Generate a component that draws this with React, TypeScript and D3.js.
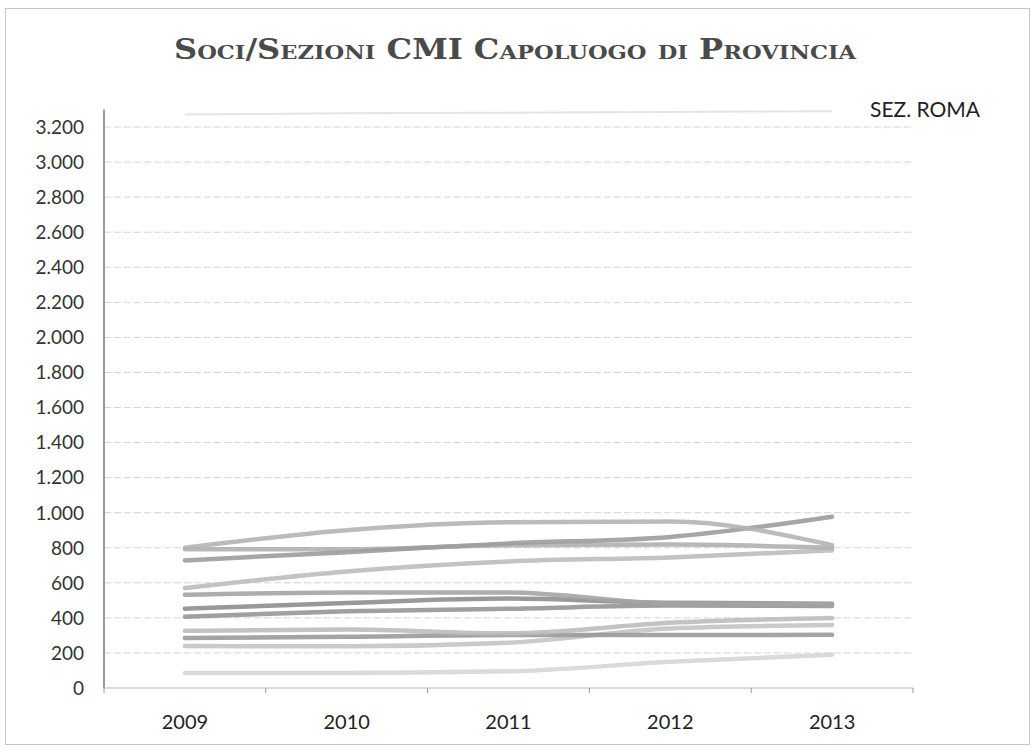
import * as d3 from "d3";

// values
const years = ["2009", "2010", "2011", "2012", "2013"];
const yTicks = [0, 200, 400, 600, 800, 1000, 1200, 1400, 1600, 1800, 2000, 2200, 2400, 2600, 2800, 3000, 3200];

const sez1 = [800, 900, 945, 950, 815];
const sez2 = [728, 775, 825, 862, 977];
const sez3 = [792, 792, 815, 818, 800];
const sez4 = [570, 665, 722, 745, 785];
const sez5 = [532, 545, 545, 482, 476];
const sez6 = [452, 485, 510, 486, 481];
const sez7 = [407, 438, 452, 470, 468];
const sez8 = [326, 334, 312, 372, 400];
const sez9 = [285, 292, 302, 302, 304];
const sez10 = [240, 238, 258, 340, 359];
const sez11 = [85, 86, 95, 150, 190];
const roma = [3272, 3278, 3282, 3286, 3290];

const series = [
  { name: "s11", values: sez11, color: "#d6d6d6" },
  { name: "s10", values: sez10, color: "#c4c4c4" },
  { name: "s9", values: sez9, color: "#9a9a9a" },
  { name: "s8", values: sez8, color: "#bdbdbd" },
  { name: "s7", values: sez7, color: "#969696" },
  { name: "s6", values: sez6, color: "#8e8e8e" },
  { name: "s5", values: sez5, color: "#a4a4a4" },
  { name: "s4", values: sez4, color: "#bcbcbc" },
  { name: "s3", values: sez3, color: "#b0b0b0" },
  { name: "s2", values: sez2, color: "#9c9c9c" },
  { name: "s1", values: sez1, color: "#b4b4b4" },
];

const it = d3.formatLocale({ decimal: ",", thousands: ".", grouping: [3], currency: ["€", ""] });
const fmt = it.format(",");

export default function App() {
  const W = 1033, H = 754;
  const left = 104, right = 913, bottom = 688;

  const x = d3.scaleBand().domain(years).range([left, right]);
  const y = d3.scaleLinear().domain([0, 3300]).range([bottom, 109.5]);
  const cx = (yr: string) => x(yr)! + x.bandwidth() / 2;

  const line = d3.line<number>()
    .x((_, i) => cx(years[i]))
    .y(d => y(d))
    .curve(d3.curveMonotoneX);

  const boundaries = years.map(yr => x(yr)!).concat([right]);
  const font = "Lato, 'Open Sans', sans-serif";

  return (
    <div style={{ position: "absolute", left: 0, top: 0 }}>
      <svg width={W} height={H} style={{ display: "block", background: "#fff" }}>
        <rect x={5.5} y={8.5} width={1024} height={736} fill="none" stroke="#c4c4c4" strokeWidth={1} />

        <text x={515} y={59} textAnchor="middle" fontFamily="'DejaVu Serif', serif" fontWeight="bold"
          fontSize={27} fill="#4a4a4a" style={{ fontVariant: "small-caps" }}
          textLength={682} lengthAdjust="spacingAndGlyphs">
          Soci/Sezioni CMI Capoluogo di Provincia
        </text>

        {/* gridlines */}
        {yTicks.filter(t => t > 0).map(t => (
          <line key={t} x1={left} x2={right} y1={y(t)} y2={y(t)} stroke="#d4d4d4" strokeWidth={1} strokeDasharray="7 3" />
        ))}

        {/* y axis */}
        <line x1={left} x2={left} y1={y(3300)} y2={bottom} stroke="#7a7a7a" strokeWidth={1.5} />
        {yTicks.map(t => (
          <text key={t} x={84} y={y(t)} dy="0.36em" textAnchor="end" fontFamily={font} fontSize={19} fill="#333">
            {fmt(t)}
          </text>
        ))}

        {/* x axis */}
        <line x1={left} x2={right} y1={bottom} y2={bottom} stroke="#b8b8b8" strokeWidth={1} />
        {boundaries.map((b, i) => (
          <line key={i} x1={b} x2={b} y1={bottom} y2={bottom + 5} stroke="#999" strokeWidth={1} />
        ))}
        {years.map(yr => (
          <text key={yr} x={cx(yr)} y={729} textAnchor="middle" fontFamily={font} fontSize={20} fill="#222">
            {yr}
          </text>
        ))}

        {/* Roma line (faint, at top of the scale) */}
        <path d={line(roma)!} fill="none" stroke="#e4e4e4" strokeWidth={2} />
        <text x={870} y={117} fontFamily={font} fontSize={21} fill="#222">SEZ. ROMA</text>

        {series.map(s => (
          <path key={s.name} d={line(s.values)!} fill="none" stroke={s.color} strokeWidth={4.5}
            strokeLinecap="round" opacity={0.9} />
        ))}
      </svg>
    </div>
  );
}
